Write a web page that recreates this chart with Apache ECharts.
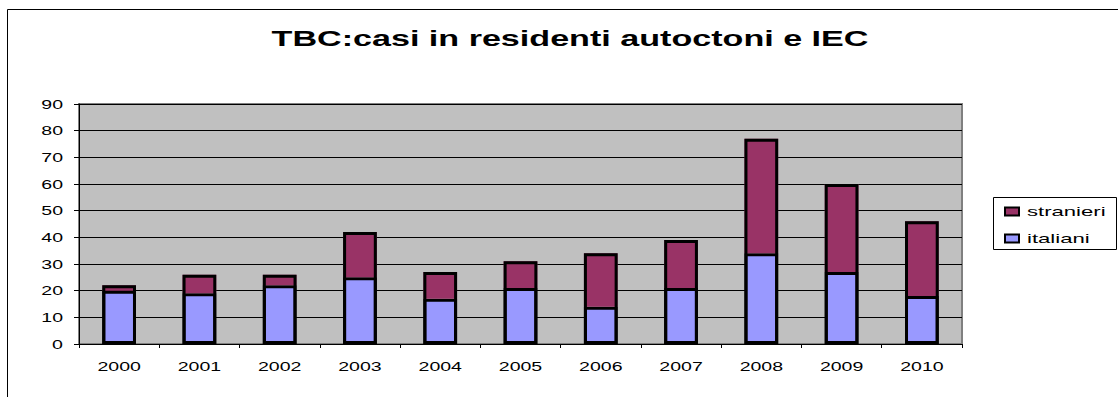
<!DOCTYPE html>
<html>
<head>
<meta charset="utf-8">
<title>TBC:casi in residenti autoctoni e IEC</title>
<script src="https://cdn.jsdelivr.net/npm/echarts@6/dist/echarts.min.js"></script>
<style>
  html, body { margin: 0; padding: 0; background: #fff; }
  #chart { width: 1118px; height: 397px; }
</style>
</head>
<body>
<div id="chart"></div>
<script>
// Tuberculosis cases by year: native residents and immigrants
const years = ['2000', '2001', '2002', '2003', '2004', '2005', '2006', '2007', '2008', '2009', '2010'];
const italiani = [20, 19, 22, 25, 17, 21, 14, 21, 34, 27, 18];
const stranieri = [2, 7, 4, 17, 10, 10, 20, 18, 43, 33, 28];
const yTicks = { min: 0, max: 90, interval: 10 };

// column totals, used for the outline drawn around each stacked column
const totals = italiani.map(function (v, i) { return v + stranieri[i]; });

const FONT = '"Liberation Sans", Arial, Helvetica, sans-serif';
const dom = document.getElementById('chart');
const chart = echarts.init(dom, null, { renderer: 'svg' });

const BAR_W = '42%';
const LINE = 3;

chart.setOption({
  animation: false,
  backgroundColor: '#fff',
  title: {
    text: 'TBC:casi in residenti autoctoni e IEC',
    left: 570,
    textAlign: 'center',
    top: 27,
    padding: 0,
    textStyle: { fontFamily: FONT, fontWeight: 'bold', fontSize: 22, color: '#000' }
  },
  legend: {
    data: ['stranieri', 'italiani'],
    orient: 'vertical',
    left: 1004,
    top: 205,
    padding: 0,
    itemWidth: 14,
    itemHeight: 8,
    itemGap: 14,
    icon: 'rect',
    selectedMode: false,
    itemStyle: { borderColor: '#000', borderWidth: 2 },
    textStyle: { fontFamily: FONT, fontSize: 13, color: '#000', padding: [0, 0, 0, 3] }
  },
  graphic: [
    {
      type: 'rect',
      silent: true,
      shape: { x: 7.5, y: 9.5, width: 1300, height: 600 },
      style: { fill: 'none', stroke: '#000', lineWidth: 1 }
    },
    {
      type: 'rect',
      silent: true,
      shape: { x: 993.5, y: 197.5, width: 123, height: 52 },
      style: { fill: 'none', stroke: '#000', lineWidth: 1 }
    }
  ],
  grid: {
    left: 79, right: 156, top: 104, bottom: 53,
    show: true,
    backgroundColor: '#c0c0c0',
    borderColor: '#808080',
    borderWidth: 2
  },
  xAxis: {
    type: 'category',
    data: years,
    boundaryGap: true,
    axisLine: { show: true, lineStyle: { color: '#000', width: 1 } },
    axisTick: { show: true, length: 4, alignWithLabel: false, lineStyle: { color: '#000' } },
    axisLabel: { fontFamily: FONT, fontSize: 13, color: '#000', margin: 16 },
    splitLine: { show: false }
  },
  yAxis: {
    type: 'value',
    min: yTicks.min,
    max: yTicks.max,
    interval: yTicks.interval,
    axisLine: { show: true, lineStyle: { color: '#000', width: 1 } },
    axisTick: { show: true, length: 5, inside: false, lineStyle: { color: '#000' } },
    axisLabel: { fontFamily: FONT, fontSize: 13, color: '#000', margin: 16 },
    splitLine: { show: true, lineStyle: { color: '#000', width: 1 } }
  },
  series: [
    {
      name: 'italiani',
      type: 'bar',
      stack: 'casi',
      data: italiani,
      barWidth: BAR_W,
      itemStyle: { color: '#9999ff', borderColor: '#000', borderWidth: LINE },
      emphasis: { disabled: true }
    },
    {
      name: 'stranieri',
      type: 'bar',
      stack: 'casi',
      data: stranieri,
      barWidth: BAR_W,
      itemStyle: { color: '#993366', borderColor: '#000', borderWidth: 0 },
      emphasis: { disabled: true }
    },
    {
      // outline of the whole column
      name: 'totale',
      type: 'bar',
      data: totals,
      barWidth: BAR_W,
      barGap: '-100%',
      silent: true,
      itemStyle: { color: 'rgba(0,0,0,0)', borderColor: '#000', borderWidth: LINE },
      emphasis: { disabled: true }
    }
  ]
});

// Widen the lettering the way the original chart's text is drawn
function widenText() {
  dom.querySelectorAll('text').forEach(function (t) {
    if (t.getAttribute('data-wide')) return;
    const len = t.getComputedTextLength();
    if (!len) return;
    const size = parseFloat(getComputedStyle(t).fontSize) || 13;
    const r = t.getBoundingClientRect();
    let k = size >= 20 ? 1.55 : 1.5;
    if (r.left > 1000) k = 1.7; // legend entries
    t.setAttribute('textLength', (len * k).toFixed(1));
    t.setAttribute('lengthAdjust', 'spacingAndGlyphs');
    t.setAttribute('data-wide', '1');
  });
}
widenText();
chart.on('finished', widenText);
</script>
</body>
</html>
